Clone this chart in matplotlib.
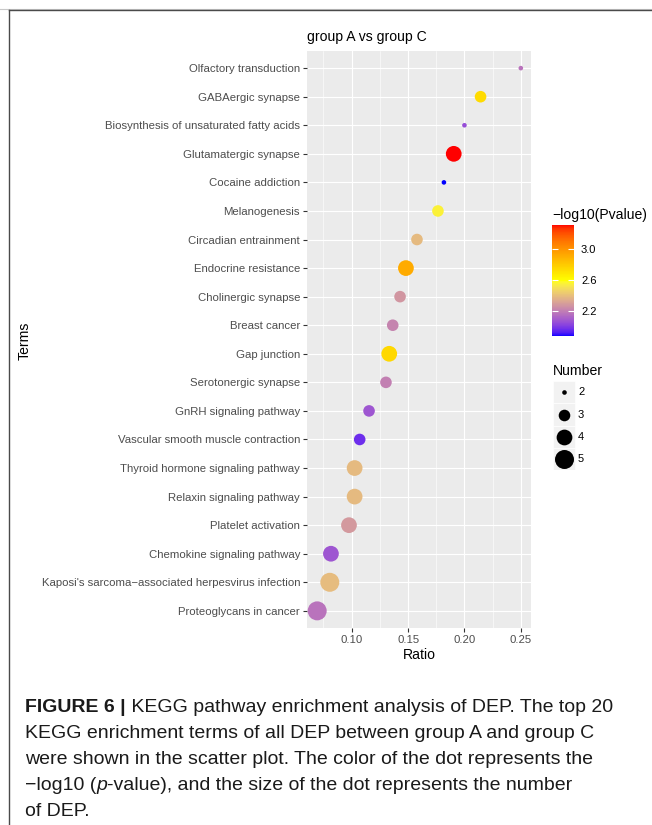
import matplotlib
matplotlib.use("Agg")
import matplotlib.pyplot as plt
import numpy as np
from matplotlib.colors import ListedColormap, Normalize
from matplotlib.lines import Line2D
from matplotlib.patches import Rectangle

plt.rcParams['font.family'] = ['Liberation Sans', 'DejaVu Sans']

# datos (de arriba hacia abajo)
terms = ["Olfactory transduction", "GABAergic synapse",
         "Biosynthesis of unsaturated fatty acids", "Glutamatergic synapse",
         "Cocaine addiction", "Melanogenesis", "Circadian entrainment",
         "Endocrine resistance", "Cholinergic synapse", "Breast cancer",
         "Gap junction", "Serotonergic synapse", "GnRH signaling pathway",
         "Vascular smooth muscle contraction", "Thyroid hormone signaling pathway",
         "Relaxin signaling pathway", "Platelet activation",
         "Chemokine signaling pathway",
         "Kaposi's sarcoma\u2212associated herpesvirus infection",
         "Proteoglycans in cancer"]
ratio = [0.25, 0.2143, 0.20, 0.1905, 0.1818, 0.1765, 0.1579, 0.1481, 0.1429, 0.1364,
         0.1333, 0.1304, 0.1154, 0.1071, 0.1026, 0.1026, 0.0976, 0.0816, 0.0806, 0.0694]
number = [2, 3, 2, 4, 2, 3, 3, 4, 3, 3, 4, 3, 3, 3, 4, 4, 4, 4, 5, 5]
neglog_p = [2.16, 2.74, 2.05, 3.32, 1.87, 2.55, 2.38, 2.92, 2.27, 2.21,
            2.75, 2.20, 2.07, 1.96, 2.38, 2.38, 2.28, 2.07, 2.39, 2.16]
cbar_ticks = [2.2, 2.6, 3.0]
x_ticks = [0.10, 0.15, 0.20, 0.25]

caption = [
    [("FIGURE 6 |", "bold", "normal"), (" KEGG pathway enrichment analysis of DEP. The top 20", "normal", "normal")],
    [("KEGG enrichment terms of all DEP between group A and group C", "normal", "normal")],
    [("were shown in the scatter plot. The color of the dot represents the", "normal", "normal")],
    [("\u2212log10 (", "normal", "normal"), ("p", "normal", "italic"),
     ("-value), and the size of the dot represents the number", "normal", "normal")],
    [("of DEP.", "normal", "normal")],
]

W, H, DPI = 652, 825, 100


# gradiente blue-yellow-red interpolado en CIELAB (como ggplot)
M = np.array([[0.4124564, 0.3575761, 0.1804375],
              [0.2126729, 0.7151522, 0.0721750],
              [0.0193339, 0.1191920, 0.9503041]])
WHITE = np.array([0.95047, 1.0, 1.08883])


def to_lab(rgb):
    c = np.asarray(rgb, float)
    lin = np.where(c <= 0.04045, c / 12.92, ((c + 0.055) / 1.055) ** 2.4)
    f = (M @ lin) / WHITE
    f = np.where(f > (6 / 29) ** 3, np.cbrt(f), f / (3 * (6 / 29) ** 2) + 4 / 29)
    return np.array([116 * f[1] - 16, 500 * (f[0] - f[1]), 200 * (f[1] - f[2])])


def from_lab(lab):
    L, a, b = lab
    fy = (L + 16) / 116
    f = np.array([fy + a / 500, fy, fy - b / 200])
    xyz = np.where(f > 6 / 29, f ** 3, 3 * (6 / 29) ** 2 * (f - 4 / 29)) * WHITE[:, None]
    lin = np.linalg.inv(M) @ xyz
    lin = np.clip(lin, 0, 1)
    s = np.where(lin <= 0.0031308, 12.92 * lin, 1.055 * lin ** (1 / 2.4) - 0.055)
    return np.clip(s, 0, 1).T


anchors = [to_lab(c) for c in [(0, 0, 1), (1, 1, 0), (1, 0, 0)]]
t = np.linspace(0, 1, 256)
seg = np.minimum((t * 2).astype(int), 1)
u = t * 2 - seg
labs = np.array([anchors[k] * (1 - w) + anchors[k + 1] * w for k, w in zip(seg, u)]).T
cmap = ListedColormap(from_lab(labs))

fig = plt.figure(figsize=(W / DPI, H / DPI), dpi=DPI)
fig.patch.set_facecolor('white')

ax = fig.add_axes([307 / W, 1 - 628 / H, 224 / W, 577 / H])
ax.set_facecolor('#EBEBEB')
for s in ax.spines.values():
    s.set_visible(False)

ypos = np.arange(len(terms))[::-1]
n = np.array(number, float)
d_lo, d_hi = 4.6, 19.0  # diametros en px para el minimo y maximo
area_px = d_lo ** 2 + (d_hi ** 2 - d_lo ** 2) * (n - n.min()) / (n.max() - n.min())
sizes = area_px * (72 / DPI) ** 2

norm = Normalize(vmin=min(neglog_p), vmax=max(neglog_p))
sc = ax.scatter(ratio, ypos, s=sizes, c=neglog_p, cmap=cmap, norm=norm,
                linewidths=0, zorder=3)

ax.set_xticks(x_ticks)
ax.set_xticklabels([f"{v:.2f}" for v in x_ticks])
ax.set_xticks([v + 0.025 for v in [0.05] + x_ticks], minor=True)
ax.set_yticks(ypos)
ax.set_yticklabels(terms)
# limites al final (set_xticks los amplia)
lo, hi = min(ratio), max(ratio)
pad = 0.05 * (hi - lo)
ax.set_xlim(lo - pad, hi + pad)
ax.set_ylim(-0.6, len(terms) - 0.4)
ax.grid(True, which='major', color='white', lw=0.85)
ax.grid(True, which='minor', axis='x', color='white', lw=0.4)
ax.set_axisbelow(True)
ax.tick_params(which='major', length=3, width=0.8, color='#333333',
               labelsize=8.2, labelcolor='#4D4D4D', pad=2)
ax.tick_params(which='minor', length=0)

fig.text(307 / W, 1 - 37 / H, "group A vs group C", fontsize=10.1,
         ha='left', va='center')
fig.text(419 / W, 1 - 655 / H, "Ratio", fontsize=10.1, ha='center', va='center')
fig.text(24.5 / W, 1 - 341 / H, "Terms", fontsize=10.1, ha='center', va='center',
         rotation=90)

# barra de color
cax = fig.add_axes([552 / W, 1 - 336 / H, 22 / W, 111 / H])
cb = fig.colorbar(sc, cax=cax, ticks=cbar_ticks)
cb.outline.set_visible(False)
cb.ax.set_yticklabels([f"{v:.1f}" for v in cbar_ticks])
cb.ax.tick_params(direction='in', color='white', length=4, width=0.8,
                  left=True, right=True, labelsize=8, pad=5)
fig.text(552 / W, 1 - 215 / H, "\u2212log10(Pvalue)", fontsize=10.1,
         ha='left', va='center')

# leyenda de tamano
lax = fig.add_axes([553 / W, 1 - 470 / H, 97 / W, 110 / H])
lax.set_xlim(0, 97)
lax.set_ylim(110, 0)
lax.axis('off')
lax.text(0, 10.7, "Number", fontsize=10.1, ha='left', va='center')
levels = np.unique(n)
for i, lv in enumerate(levels):
    yc = 32.3 + i * 22.2
    lax.add_patch(Rectangle((0, yc - 11.1), 21.5, 22.2, facecolor='#F2F2F2',
                            edgecolor='white', lw=0.5))
    a = d_lo ** 2 + (d_hi ** 2 - d_lo ** 2) * (lv - n.min()) / (n.max() - n.min())
    lax.scatter([10.75], [yc], s=a * (72 / DPI) ** 2, color='black', linewidths=0)
    lax.text(25, yc, f"{int(lv)}", fontsize=8, ha='left', va='center')

# marco de la pagina
fig.add_artist(Line2D([0, 1], [1 - 8.8 / H] * 2, color='#C8C8C8', lw=0.8))
fig.add_artist(Line2D([9 / W, 1], [1 - 10 / H] * 2, color='#4A4A4A', lw=1.0))
fig.add_artist(Line2D([9 / W] * 2, [0, 1 - 10 / H], color='#4A4A4A', lw=1.0))

# pie de figura
renderer = fig.canvas.get_renderer()
for k, runs in enumerate(caption):
    x = 25 / W
    yb = 1 - (712 + 26 * k) / H
    for txt, wt, st in runs:
        tt = fig.text(x, yb, txt, fontsize=14, fontweight=wt, fontstyle=st,
                      ha='left', va='baseline', color='#1A1A1A')
        x = tt.get_window_extent(renderer).x1 / W

fig.savefig("out.png", dpi=DPI)
